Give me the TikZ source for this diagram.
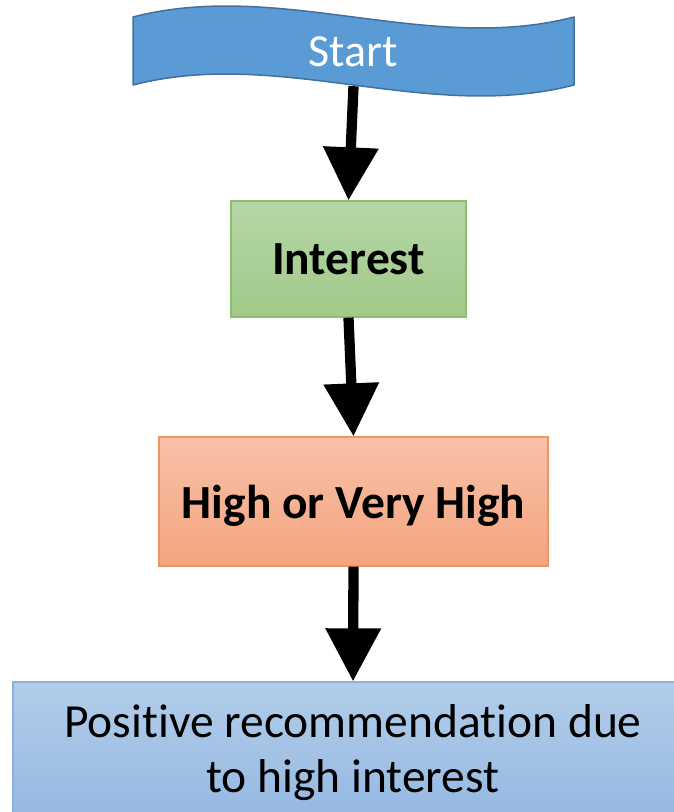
\documentclass[tikz,border=0pt]{standalone}
\usepackage{fontspec}
\setmainfont{Carlito}[Ligatures=NoCommon]
\usetikzlibrary{arrows.meta}

\definecolor{tapefill}{HTML}{5B9BD5}
\definecolor{tapeline}{HTML}{41719C}
\definecolor{greentop}{HTML}{B5D6A6}
\definecolor{greenbot}{HTML}{A1CA89}
\definecolor{greenline}{HTML}{8DBE70}
\definecolor{orangetop}{HTML}{F8C1A8}
\definecolor{orangebot}{HTML}{F4A47E}
\definecolor{orangeline}{HTML}{EE9663}
\definecolor{bluetop}{HTML}{B2CDEA}
\definecolor{bluebot}{HTML}{94B7E1}
\definecolor{blueline}{HTML}{8AB1E0}

\tikzset{
  bigfont/.style={font=\fontsize{47.5}{55}\selectfont},
  procbox/.style={rectangle, inner sep=0pt, line width=1.3pt, bigfont},
  flowarrow/.style={line width=10.3pt, -{Triangle[width=53pt,length=53pt]}},
}

\begin{document}
\begin{tikzpicture}[x=1pt,y=-1pt]
\useasboundingbox (0,0) rectangle (674,812);
\clip (0,0) rectangle (674,812);

% punched-tape start symbol
\draw[fill=tapefill, draw=tapeline, line width=1.5pt, line join=round]
  (133,17) .. controls (280,-21) and (427,55) .. (574,17)
  -- (574,85) .. controls (427,123) and (280,47) .. (133,85) -- cycle;
\node[font=\fontsize{46}{55}\selectfont, text=white, inner sep=0pt,
      minimum width=441pt, minimum height=68pt, text depth=0pt]
  (start) at (353.5,52) {Start};

% process boxes
\node[procbox, draw=greenline, top color=greentop, bottom color=greenbot,
      minimum width=235pt, minimum height=116pt, text depth=0pt]
  (interest) at (348.5,259) {\bfseries Interest};
\node[procbox, draw=orangeline, top color=orangetop, bottom color=orangebot,
      minimum width=389pt, minimum height=129pt, text depth=0pt]
  (level) at (353.5,501.5) {\bfseries High or Very High};
\node[procbox, draw=blueline, top color=bluetop, bottom color=bluebot,
      minimum width=680pt, minimum height=142pt, align=center]
  (result) at (353,753) {Positive recommendation due\\to high interest};

% connectors
\draw[flowarrow] (start.south) -- (interest.north);
\draw[flowarrow] (interest.south) -- (level.north);
\draw[flowarrow] (level.south) -- (result.north);
\end{tikzpicture}
\end{document}
